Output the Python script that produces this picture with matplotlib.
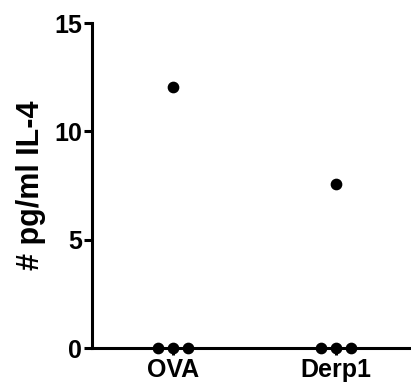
import matplotlib.pyplot as plt
import numpy as np

plt.rcParams['font.family'] = ['Liberation Sans', 'DejaVu Sans']
plt.rcParams['font.weight'] = 'bold'

groups = ['OVA', 'Derp1']
ova_vals = [12.05, 0, 0, 0]
derp1_vals = [7.57, 0, 0, 0]
yticks = [0, 5, 10, 15]


def spread(vals, step=0.092):
    # scatter-dot style: points with the same value are laid side by side
    vals = np.asarray(vals, dtype=float)
    offs = np.zeros(len(vals))
    for v in np.unique(vals):
        idx = np.where(vals == v)[0]
        offs[idx] = (np.arange(len(idx)) - (len(idx) - 1) / 2) * step
    return offs


fig = plt.figure(figsize=(4.11, 3.85), dpi=100)
ax = fig.add_axes([0.224, 0.096, 0.776, 0.844])

for i, vals in enumerate([ova_vals, derp1_vals]):
    ax.scatter(i + spread(vals), vals, s=55, color='black', zorder=3, clip_on=False)

ax.set_xlim(-0.497, 1.46)
ax.set_ylim(0, 15)
ax.set_xticks([0, 1])
ax.set_xticklabels(groups, fontsize=18, fontweight='bold')
ax.set_yticks(yticks)
ax.set_yticklabels([str(t) for t in yticks], fontsize=18, fontweight='bold')
ax.set_ylabel('# pg/ml IL-4', fontsize=22, fontweight='bold', labelpad=6)

for side in ['top', 'right']:
    ax.spines[side].set_visible(False)
for side in ['left', 'bottom']:
    ax.spines[side].set_linewidth(2.2)
ax.tick_params(axis='y', length=6, width=2.2, pad=1)
ax.tick_params(axis='x', length=5, width=2.2, pad=2)

fig.savefig('out.png', dpi=100)
